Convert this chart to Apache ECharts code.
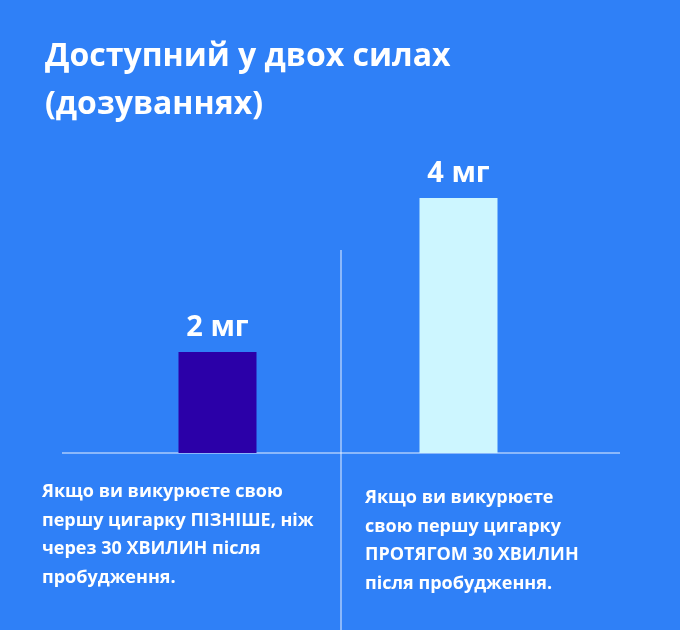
<!DOCTYPE html>
<html><head><meta charset="utf-8">
<script src="https://cdn.jsdelivr.net/npm/echarts@6/dist/echarts.min.js"></script>
<style>html,body{margin:0;background:#2f80f7}#c{width:680px;height:630px}</style>
</head><body><div id="c"></div>
<script>
var categories = ['later', 'within'];
var doses = [2, 4];
var doseLabels = ['2 мг', '4 мг'];
var barColors = ['#2b00a8', '#cdf6ff'];

var chart = echarts.init(document.getElementById('c'));
var font = '"Open Sans", "Noto Sans", sans-serif';
var option = {
  backgroundColor: '#2f80f7',
  title: {
    text: 'Доступний у двох силах\n(дозуваннях)',
    left: 40, top: 28,
    textStyle: { color: '#fff', fontSize: 32, fontWeight: 'bold', fontFamily: font, lineHeight: 48 }
  },
  grid: { left: 97, right: 101, top: 198, bottom: 177 },
  xAxis: {
    type: 'category', data: categories,
    axisLine: { show: false }, axisTick: { show: false }, axisLabel: { show: false }
  },
  yAxis: { type: 'value', min: 0.69, max: 4, show: false, splitLine: { show: false } },
  series: [{
    type: 'bar', barWidth: 78,
    data: doses.map(function (v, i) { return { value: v, itemStyle: { color: barColors[i] } }; }),
    label: {
      show: true, position: 'top', distance: 10,
      formatter: function (p) { return doseLabels[p.dataIndex]; },
      color: '#fff', fontSize: 29, fontWeight: 'bold', fontFamily: font
    }
  }],
  graphic: [
    { type: 'line', shape: { x1: 62, y1: 453, x2: 620, y2: 453 }, style: { stroke: '#e8f0ff', lineWidth: 1 } },
    { type: 'line', shape: { x1: 341, y1: 250, x2: 341, y2: 630 }, style: { stroke: '#e8f0ff', lineWidth: 1 } },
    { type: 'text', left: 42, top: 478, style: {
      text: 'Якщо ви викурюєте свою\nпершу цигарку ПІЗНІШЕ, ніж\nчерез 30 ХВИЛИН після\nпробудження.',
      fill: '#fff', font: 'bold 18px ' + font, lineHeight: 28.5 } },
    { type: 'text', left: 365, top: 484, style: {
      text: 'Якщо ви викурюєте\nсвою першу цигарку\nПРОТЯГОМ 30 ХВИЛИН\nпісля пробудження.',
      fill: '#fff', font: 'bold 18px ' + font, lineHeight: 28.5 } }
  ]
};
chart.setOption(option);
</script></body></html>
